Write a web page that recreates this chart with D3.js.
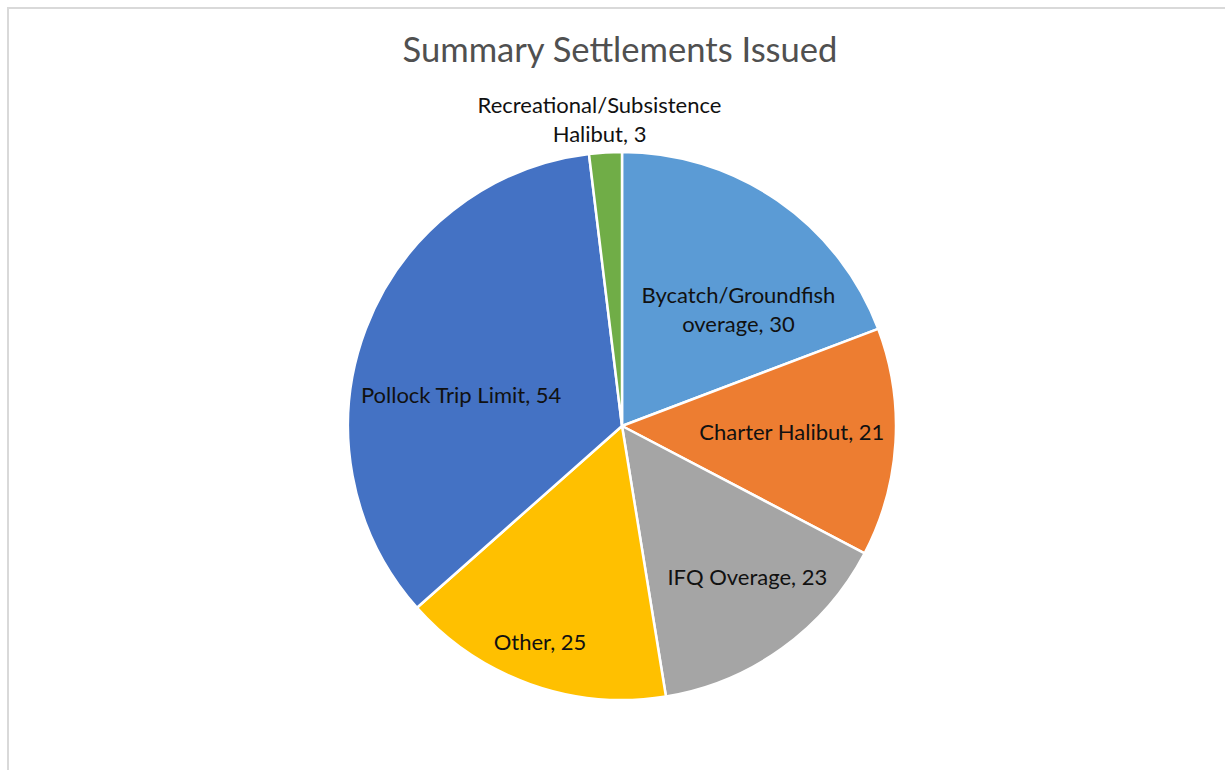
<!DOCTYPE html>
<html>
<head>
<meta charset="utf-8">
<script src="https://cdn.jsdelivr.net/npm/d3@7"></script>
<style>
  html, body { margin: 0; padding: 0; background: #fff; }
  svg { display: block; }
</style>
</head>
<body>
<svg id="chart" width="1225" height="770"></svg>
<script>
// ---- data ----
const title = "Summary Settlements Issued";
const categories = [
  "Bycatch/Groundfish overage",
  "Charter Halibut",
  "IFQ Overage",
  "Other",
  "Pollock Trip Limit",
  "Recreational/Subsistence Halibut"
];
const values = [30, 21, 23, 25, 54, 3];
// label line breaks as shown in the picture
const labelLines = [
  ["Bycatch/Groundfish", "overage, 30"],
  ["Charter Halibut, 21"],
  ["IFQ Overage, 23"],
  ["Other, 25"],
  ["Pollock Trip Limit, 54"],
  ["Recreational/Subsistence", "Halibut, 3"]
];
const colors = ["#5b9bd5", "#ed7d31", "#a5a5a5", "#ffc000", "#4472c4", "#70ad47"];

// ---- label placement (style): polar angle in degrees, radius as fraction of pie radius ----
const labelAngle = [45.1, 92, 140.3, 200.8, 280.9, 355.8];
const labelRadius = [0.60, 0.62, 0.716, 0.843, 0.598, 1.12];

// ---- layout ----
const svg = d3.select("#chart");
const W = 1225, H = 770;
const cx = 622, cy = 426, R = 274;

// frame
svg.append("rect")
  .attr("x", 8).attr("y", 8)
  .attr("width", W + 20).attr("height", H + 20)
  .attr("fill", "#fff")
  .attr("stroke", "#d9d9d9").attr("stroke-width", 2);

// title
svg.append("text")
  .attr("x", 620).attr("y", 62)
  .attr("text-anchor", "middle")
  .attr("font-family", "Lato, 'Open Sans', sans-serif")
  .attr("font-size", 34.6)
  .attr("fill", "#505050")
  .text(title);

const data = categories.map((c, i) => ({ name: c, value: values[i], color: colors[i], lines: labelLines[i], la: labelAngle[i], lr: labelRadius[i] }));

const pie = d3.pie().sort(null).value(d => d.value).startAngle(0).endAngle(2 * Math.PI);
const arc = d3.arc().innerRadius(0).outerRadius(R);

const g = svg.append("g").attr("transform", `translate(${cx},${cy})`);

g.selectAll("path.slice")
  .data(pie(data))
  .join("path")
  .attr("class", "slice")
  .attr("d", arc)
  .attr("fill", d => d.data.color)
  .attr("stroke", "#fff")
  .attr("stroke-width", 2.5)
  .attr("stroke-linejoin", "round");

const lineH = 29;
const labels = g.selectAll("text.lbl")
  .data(pie(data))
  .join("text")
  .attr("class", "lbl")
  .attr("text-anchor", "middle")
  .attr("font-family", "Lato, 'Open Sans', sans-serif")
  .attr("font-size", 22)
  .attr("fill", "#111")
  .attr("transform", d => {
    const a = d.data.la * Math.PI / 180;
    const r = d.data.lr * R;
    return `translate(${r * Math.sin(a)},${-r * Math.cos(a)})`;
  });

labels.each(function(d) {
  const n = d.data.lines.length;
  d3.select(this).selectAll("tspan")
    .data(d.data.lines)
    .join("tspan")
    .attr("x", 0)
    .attr("y", (t, i) => (i - (n - 1) / 2) * lineH + 7.8)
    .text(t => t);
});
</script>
</body>
</html>
